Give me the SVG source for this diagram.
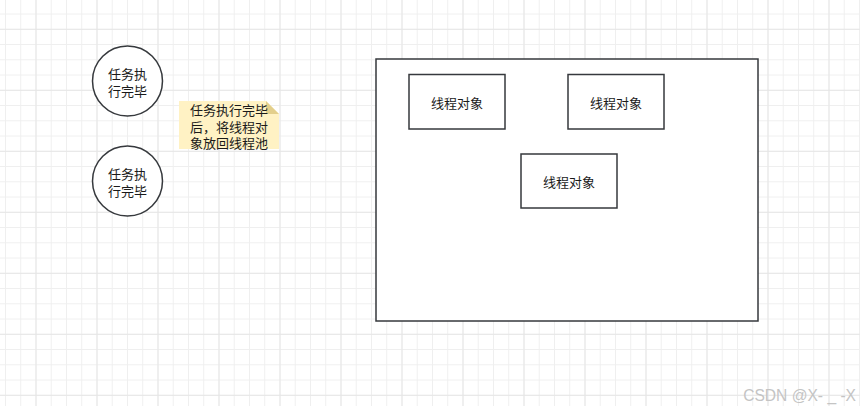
<svg xmlns="http://www.w3.org/2000/svg" width="860" height="406" viewBox="0 0 860 406">
  <style>
    .shape { fill: #ffffff; stroke: #36393d; stroke-width: 1.5; }
    .label { font-family: "Noto Sans CJK SC", "Liberation Sans", sans-serif; font-size: 13px; fill: #1a1a1a; }
    .mid { text-anchor: middle; dominant-baseline: central; }
    .note { fill: #fff2c4; }
    .fold { fill: #e3cf8c; }
    .wm { font-family: "Liberation Sans", "Noto Sans", sans-serif; font-size: 15.6px; fill: #c4c4c4; }
  </style>
  <defs>
    <pattern id="minor" patternUnits="userSpaceOnUse" x="35.5" y="28.8" width="15.25" height="15.25">
      <path d="M0.5 0 V15.25 M0 0.5 H15.25" stroke="#efefef" stroke-width="1" fill="none"/>
    </pattern>
    <pattern id="major" patternUnits="userSpaceOnUse" x="35.5" y="28.8" width="61" height="61">
      <path d="M0.5 0 V61 M0 0.5 H61" stroke="#e6e6e6" stroke-width="1" fill="none"/>
    </pattern>
  </defs>
  <rect width="860" height="406" fill="#ffffff"/>
  <rect width="860" height="406" fill="url(#minor)"/>
  <rect width="860" height="406" fill="url(#major)"/>

  <g id="connectors"></g>

  <g id="task1">
    <circle class="shape" cx="127.5" cy="81" r="35"/>
    <text class="label mid" x="127.5" y="73">任务执<tspan x="127.5" y="90">行完毕</tspan></text>
  </g>
  <g id="task2">
    <circle class="shape" cx="127.5" cy="181" r="35"/>
    <text class="label mid" x="127.5" y="173">任务执<tspan x="127.5" y="190">行完毕</tspan></text>
  </g>
  <g id="note">
    <path class="note" d="M179 101 H266 L279 114 V149 H179 Z"/>
    <path class="fold" d="M266 101 L279 114 H266 Z"/>
    <text class="label" x="190" y="109" dominant-baseline="central">任务执行完毕<tspan x="190" y="125.5">后，将线程对</tspan><tspan x="190" y="142">象放回线程池</tspan></text>
  </g>
  <g id="pool">
    <rect class="shape" x="376" y="59" width="382" height="262"/>
  </g>
  <g id="thread1">
    <rect class="shape" x="409" y="74.5" width="96" height="54.5"/>
    <text class="label mid" x="457" y="102">线程对象</text>
  </g>
  <g id="thread2">
    <rect class="shape" x="568" y="74.5" width="96" height="54.5"/>
    <text class="label mid" x="616" y="102">线程对象</text>
  </g>
  <g id="thread3">
    <rect class="shape" x="521" y="154" width="96" height="54"/>
    <text class="label mid" x="569" y="181">线程对象</text>
  </g>
  <text class="wm" x="856" y="401" text-anchor="end">CSDN @X- _ -X</text>
</svg>
